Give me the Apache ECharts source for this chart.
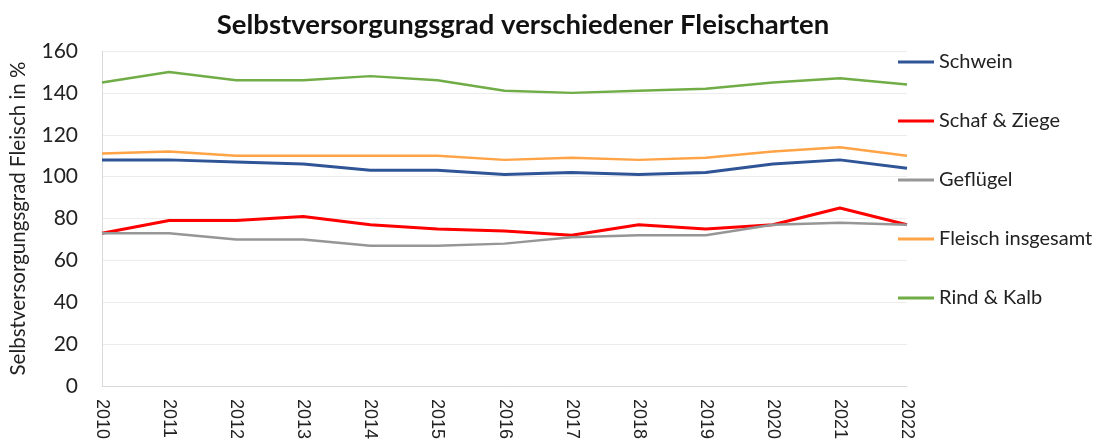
<!DOCTYPE html>
<html>
<head>
<meta charset="utf-8">
<script src="https://cdn.jsdelivr.net/npm/echarts@6/dist/echarts.min.js"></script>
<style>
  html, body { margin: 0; padding: 0; background: #fff; }
  #chart { width: 1100px; height: 446px; }
</style>
</head>
<body>
<div id="chart"></div>
<script>
const years = ['2010', '2011', '2012', '2013', '2014', '2015', '2016', '2017', '2018', '2019', '2020', '2021', '2022']

const schwein = [108, 108, 107, 106, 103, 103, 101, 102, 101, 102, 106, 108, 104]
const schafZiege = [73, 79, 79, 81, 77, 75, 74, 72, 77, 75, 77, 85, 77]
const gefluegel = [73, 73, 70, 70, 67, 67, 68, 71, 72, 72, 77, 78, 77]
const fleischGesamt = [111, 112, 110, 110, 110, 110, 108, 109, 108, 109, 112, 114, 110]
const rindKalb = [145, 150, 146, 146, 148, 146, 141, 140, 141, 142, 145, 147, 144]

const yTicks = [0, 20, 40, 60, 80, 100, 120, 140, 160]

const chart = echarts.init(document.getElementById('chart'))

function line(name, data, color, width) {
  return {
    name, type: 'line', data, symbol: 'none', animation: false,
    lineStyle: { color, width }, itemStyle: { color }
  }
}

chart.setOption({
  animation: false,
  textStyle: { fontFamily: 'Lato, "Open Sans", sans-serif' },
  title: {
    text: 'Selbstversorgungsgrad verschiedener Fleischarten',
    left: 518, top: 6, textAlign: 'center',
    textStyle: { fontSize: 27.5, fontWeight: 'bold', color: '#111', fontFamily: 'Lato, "Open Sans", sans-serif' }
  },
  grid: { left: 100, right: 193, top: 51, bottom: 60 },
  legend: {
    orient: 'vertical', left: 893, top: 46,
    icon: 'rect', itemWidth: 36, itemHeight: 3, itemGap: 37,
    textStyle: { fontSize: 20, lineHeight: 22, color: '#222' },
    data: ['Schwein', 'Schaf & Ziege', 'Geflügel', 'Fleisch insgesamt', 'Rind & Kalb']
  },
  xAxis: {
    type: 'category', data: years, boundaryGap: false,
    axisLine: { lineStyle: { color: '#d9d9d9' } },
    axisTick: { show: false },
    axisLabel: {
      rotate: -90, margin: 13, color: '#222', fontSize: 18,
      fontFamily: '"Liberation Sans", Arial, sans-serif'
    }
  },
  yAxis: {
    type: 'value', min: yTicks[0], max: yTicks[yTicks.length - 1], interval: 20,
    name: 'Selbstversorgungsgrad Fleisch in %',
    nameLocation: 'middle', nameGap: 73,
    nameTextStyle: { fontSize: 20.5, color: '#222' },
    axisLine: { show: true, lineStyle: { color: '#d9d9d9' } },
    axisTick: { show: false },
    axisLabel: { fontSize: 21, color: '#222', margin: 24 },
    splitLine: { lineStyle: { color: '#ececec' } }
  },
  series: [
    line('Schwein', schwein, '#2f5597', 3),
    line('Schaf & Ziege', schafZiege, '#ff0000', 3),
    line('Geflügel', gefluegel, '#969696', 2.5),
    line('Fleisch insgesamt', fleischGesamt, '#ffa347', 2.5),
    line('Rind & Kalb', rindKalb, '#70ad47', 2.5)
  ]
})
</script>
</body>
</html>
